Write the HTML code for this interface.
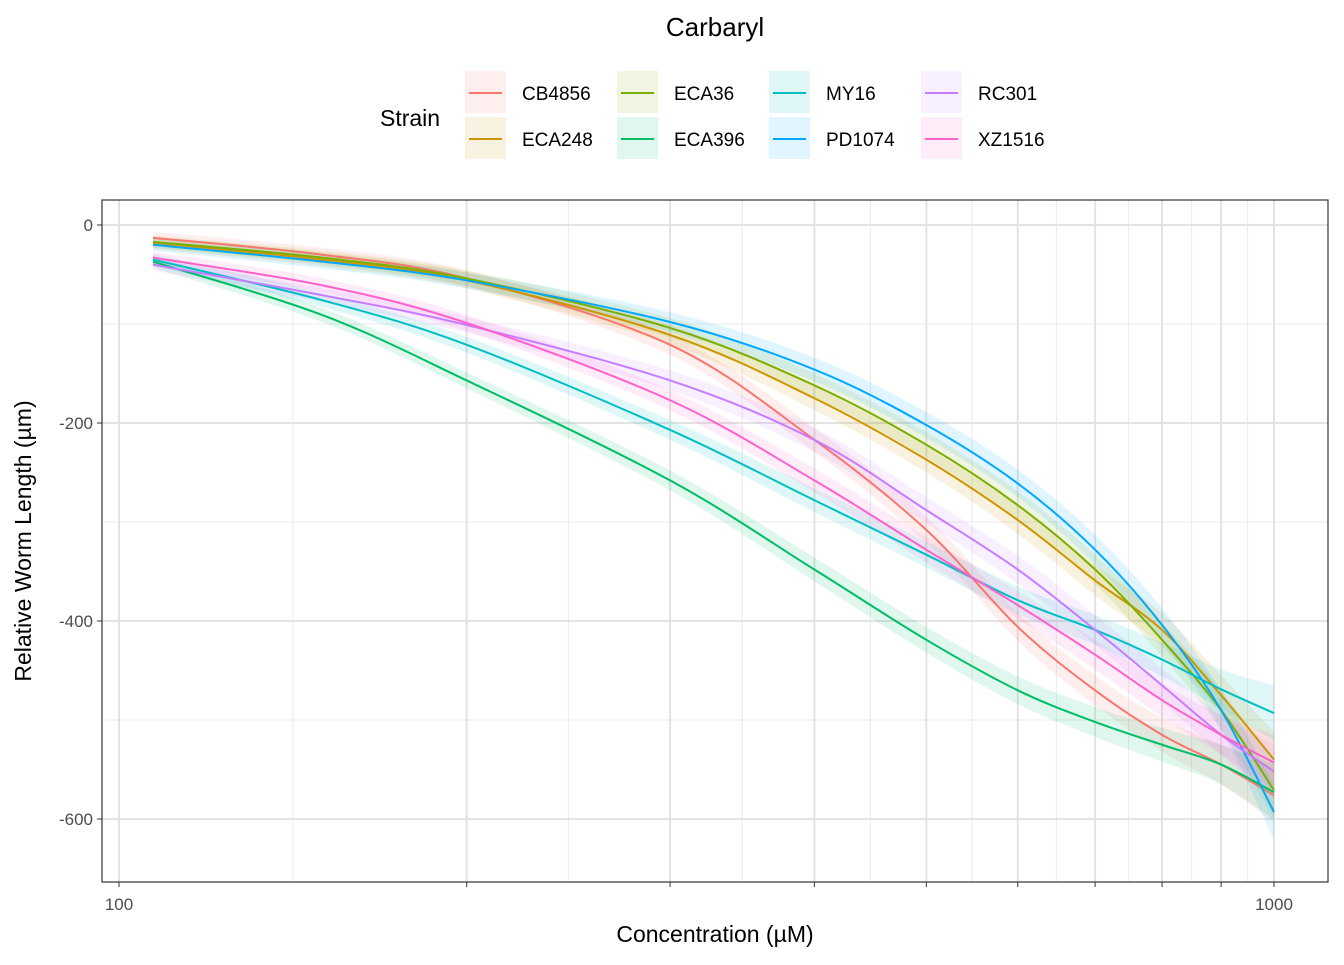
<!DOCTYPE html>
<html><head><meta charset="utf-8"><style>
body{margin:0;background:#fff;font-family:"Liberation Sans",Arial,sans-serif}
svg text{font-family:"Liberation Sans",Arial,sans-serif}
</style></head><body>
<svg id="chart" width="1344" height="960" viewBox="0 0 1344 960" xmlns="http://www.w3.org/2000/svg">
<rect width="1344" height="960" fill="#fff"/>
<text x="715" y="36" font-size="26" text-anchor="middle">Carbaryl</text>
<g id="legend"></g>
<g id="plot"></g>
<text x="715" y="942" font-size="23" text-anchor="middle">Concentration (µM)</text>
<text transform="translate(31,541) rotate(-90)" font-size="23" text-anchor="middle">Relative Worm Length (µm)</text>
</svg>
<script>
const strains=["CB4856","ECA248","ECA36","ECA396","MY16","PD1074","RC301","XZ1516"];
const colors=["#F8766D","#CD9600","#7CAE00","#00BE67","#00BFC4","#00A9FF","#C77CFF","#FF61CC"];
const concs=[107,150,200,300,400,500,600,700,800,900,1000];
const sCB4856=[-13,-30,-54,-121,-217,-308,-406,-470,-515,-545,-576];
const sECA248=[-18,-35,-56,-111,-175,-237,-298,-359,-409,-475,-540];
const sECA36=[-17,-33,-54,-104,-162,-222,-283,-348,-419,-490,-571];
const sECA396=[-37,-91,-157,-258,-348,-419,-470,-502,-525,-545,-573];
const sMY16=[-35,-76,-121,-207,-278,-333,-379,-409,-439,-469,-493];
const sPD1074=[-20,-37,-56,-98,-146,-202,-261,-328,-404,-490,-593];
const sRC301=[-40,-71,-101,-157,-217,-288,-348,-409,-465,-515,-552];
const sXZ1516=[-33,-61,-99,-177,-258,-328,-384,-434,-480,-515,-543];
const series=[sCB4856,sECA248,sECA36,sECA396,sMY16,sPD1074,sRC301,sXZ1516];
const ciHalf=[6,7,8,10,12,13,14,15,17,20,28];
const yTicks=[0,-200,-400,-600];
const yMinor=[-100,-300,-500];
const xMajor=[100,200,300,400,500,600,700,800,900,1000];
const xLabels=[100,1000];

const NS="http://www.w3.org/2000/svg";
const L=102,R=1328,T=200,B=882;
const xs=c=>119+(Math.log10(c)-2)*1155;
const ys=v=>225-v*0.99;
function el(tag,attrs,parent){const e=document.createElementNS(NS,tag);for(const k in attrs)e.setAttribute(k,attrs[k]);parent.appendChild(e);return e;}
const plot=document.getElementById('plot');
const clipD=el('defs',{},plot);const cp=el('clipPath',{id:'cp'},clipD);el('rect',{x:L,y:T,width:R-L,height:B-T},cp);
// grid
yMinor.forEach(v=>{const g=el('line',{x1:L,x2:R,y1:ys(v),y2:ys(v),stroke:'#ebebeb','stroke-width':1},plot);

});
const xMinor=[];for(let i=0;i<xMajor.length-1;i++)xMinor.push(Math.sqrt(xMajor[i]*xMajor[i+1]));
xMinor.forEach(c=>{const g=el('line',{x1:xs(c),x2:xs(c),y1:T,y2:B,stroke:'#ebebeb','stroke-width':1},plot);

});
yTicks.forEach(v=>{const g=el('line',{x1:L,x2:R,y1:ys(v),y2:ys(v),stroke:'#e3e3e3','stroke-width':2},plot);


const t=el('line',{x1:L-5,x2:L,y1:ys(v),y2:ys(v),stroke:'#333','stroke-width':1},plot);


const tx=el('text',{x:L-9,y:ys(v)+6,'font-size':17,fill:'#4d4d4d','text-anchor':'end'},plot);tx.textContent=v;

});
xMajor.forEach(c=>{const g=el('line',{x1:xs(c),x2:xs(c),y1:T,y2:B,stroke:'#e3e3e3','stroke-width':2},plot);


const t=el('line',{x1:xs(c),x2:xs(c),y1:B,y2:B+5,stroke:'#333','stroke-width':1},plot);

});
xLabels.forEach(c=>{const tx=el('text',{x:xs(c),y:B+28,'font-size':17,fill:'#4d4d4d','text-anchor':'middle'},plot);tx.textContent=c;

});
function smooth(pts){let d='M'+pts[0][0]+','+pts[0][1];
for(let i=0;i<pts.length-1;i++){const p0=pts[Math.max(0,i-1)],p1=pts[i],p2=pts[i+1],p3=pts[Math.min(pts.length-1,i+2)];
d+=' C'+(p1[0]+(p2[0]-p0[0])/6)+','+(p1[1]+(p2[1]-p0[1])/6)+' '+(p2[0]-(p3[0]-p1[0])/6)+','+(p2[1]-(p3[1]-p1[1])/6)+' '+p2[0]+','+p2[1];}
return d;}
const gData=el('g',{'clip-path':'url(#cp)'},plot);
series.forEach((s,i)=>{const up=concs.map((c,j)=>[xs(c),ys(s[j]+ciHalf[j])]);
const lo=concs.map((c,j)=>[xs(c),ys(s[j]-ciHalf[j])]).reverse();
const d=smooth(up)+' L'+smooth(lo).slice(1)+' Z';
const r=el('path',{d:d,fill:colors[i],'fill-opacity':0.12,stroke:'none'},gData);

});
series.forEach((s,i)=>{const pts=concs.map((c,j)=>[xs(c),ys(s[j])]);
const p=el('path',{d:smooth(pts),fill:'none',stroke:colors[i],'stroke-width':2},gData);

});
const border=el('rect',{x:L,y:T,width:R-L,height:B-T,fill:'none',stroke:'#333','stroke-width':1.2},plot);


// legend
const lg=document.getElementById('legend');
const lt=el('text',{x:380,y:126,'font-size':23},lg);lt.textContent='Strain';


strains.forEach((n,i)=>{const col=Math.floor(i/2),row=i%2;const x=465+col*152,y=71+row*46;
const g=el('g',{},lg);


el('rect',{x:x,y:y,width:41,height:42,fill:colors[i],'fill-opacity':0.12},g);
el('line',{x1:x+4,x2:x+37,y1:y+22,y2:y+22,stroke:colors[i],'stroke-width':2},g);
const t=el('text',{x:x+57,y:y+29,'font-size':19},g);t.textContent=n;});
</script>
</body></html>
